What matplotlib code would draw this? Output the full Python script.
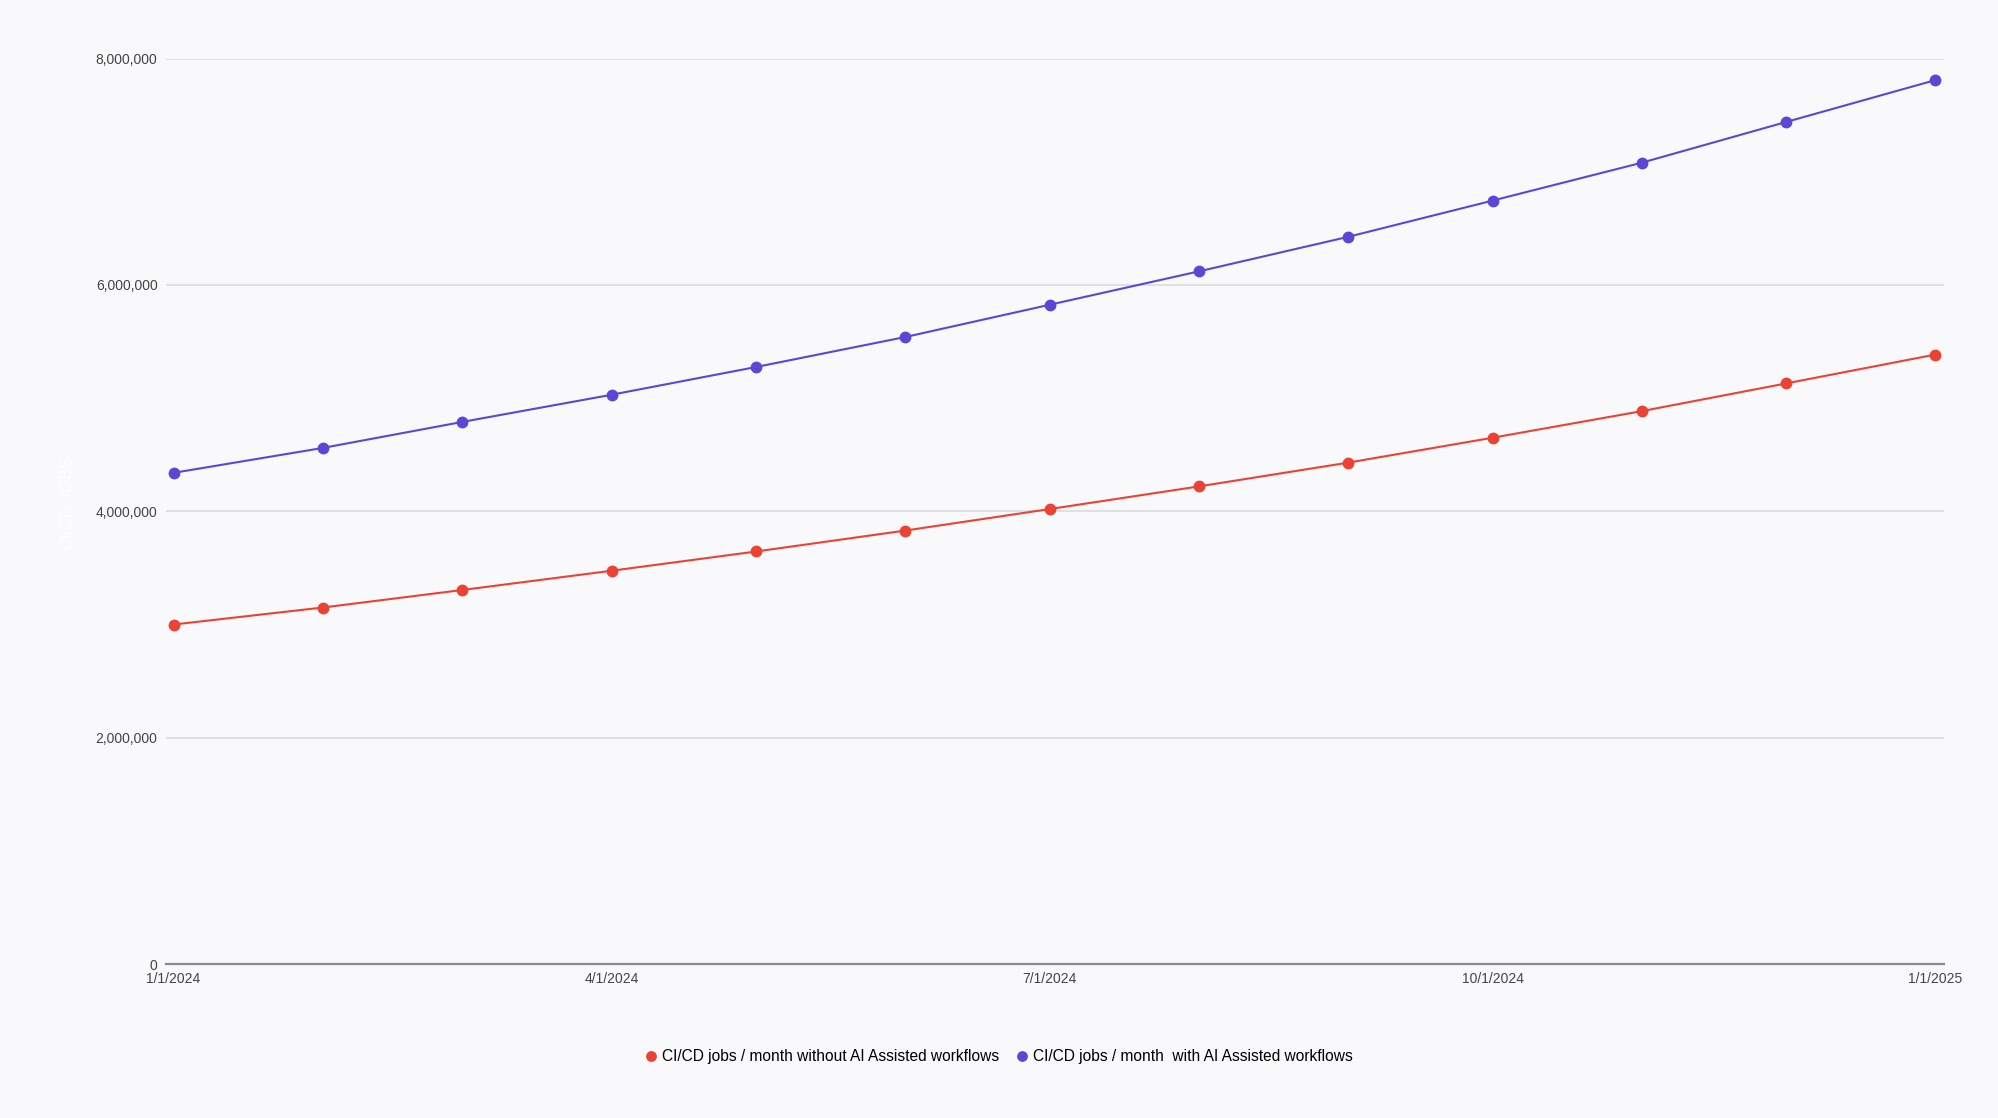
"""
CI/CD jobs per month, with and without AI assisted workflows.
"""
import matplotlib
matplotlib.use("Agg")
import matplotlib.pyplot as plt
import matplotlib.dates as mdates
from matplotlib.ticker import FuncFormatter
from datetime import datetime, timedelta

# data
months = [datetime(2024, m, 1) for m in range(1, 13)] + [datetime(2025, 1, 1)]
jobs_without_ai = [3000000, 3150000, 3305000, 3475000, 3645000, 3830000, 4020000,
                   4220000, 4430000, 4650000, 4885000, 5130000, 5385000]
jobs_with_ai = [4340000, 4560000, 4790000, 5030000, 5275000, 5540000, 5825000,
                6120000, 6425000, 6745000, 7080000, 7440000, 7810000]
series_labels = ["CI/CD jobs / month without AI Assisted workflows",
                 "CI/CD jobs / month  with AI Assisted workflows"]
x_ticks = [datetime(2024, 1, 1), datetime(2024, 4, 1), datetime(2024, 7, 1),
           datetime(2024, 10, 1), datetime(2025, 1, 1)]
y_ticks = [0, 2000000, 4000000, 6000000, 8000000]

BG = "#F9F9FB"
RED = "#EA4335"
PURPLE = "#5B47D6"

plt.rcParams["font.family"] = ["Liberation Sans", "DejaVu Sans"]

fig = plt.figure(figsize=(19.99, 11.18), dpi=100, facecolor=BG)
ax = fig.add_axes([0.083, 0.1377, 0.8895, 0.8099], facecolor=BG)

ax.plot(months, jobs_without_ai, color=RED, lw=1.5, marker="o", ms=7.5,
        label=series_labels[0], zorder=3)
ax.plot(months, jobs_with_ai, color=PURPLE, lw=1.5, marker="o", ms=7.5,
        label=series_labels[1], zorder=3)

ax.set_xlim(months[0] - timedelta(days=1.6), months[-1] + timedelta(days=1.8))
ax.set_ylim(0, 8000000)
ax.set_xticks(x_ticks)
ax.xaxis.set_major_formatter(FuncFormatter(
    lambda v, p: "{d.month}/{d.day}/{d.year}".format(d=mdates.num2date(v))))
ax.set_yticks(y_ticks)
ax.yaxis.set_major_formatter(FuncFormatter(lambda v, p: f"{int(v):,}"))

ax.grid(True, axis="y", color="#DCDCDE", lw=1.2)
ax.set_axisbelow(True)
for side in ["top", "right", "left"]:
    ax.spines[side].set_visible(False)
ax.spines["bottom"].set_color("#8A8A8A")
ax.spines["bottom"].set_linewidth(1.6)
ax.tick_params(axis="both", length=0, labelsize=10, colors="#444444")
ax.tick_params(axis="y", pad=6)
ax.tick_params(axis="x", pad=6)
# y labels sit a touch high, so the "0" clears the first date label
for lbl in ax.get_yticklabels():
    lbl.set_verticalalignment("center_baseline")

# faint y axis title, almost invisible on the background
fig.text(0.034, 0.55, "CI/CD JOBS", rotation=90, color="#FFFFFF",
         fontsize=12, ha="center", va="center")

fig.legend(loc="center", bbox_to_anchor=(0.5, 0.055), ncol=2, frameon=False,
           fontsize=11.2, handlelength=0.6, handletextpad=0.4, columnspacing=1.2,
           markerscale=0.9)
leg = fig.legends[0]
for h in leg.legend_handles:
    h.set_linestyle("none")

fig.savefig("out.png", dpi=100, facecolor=BG)
